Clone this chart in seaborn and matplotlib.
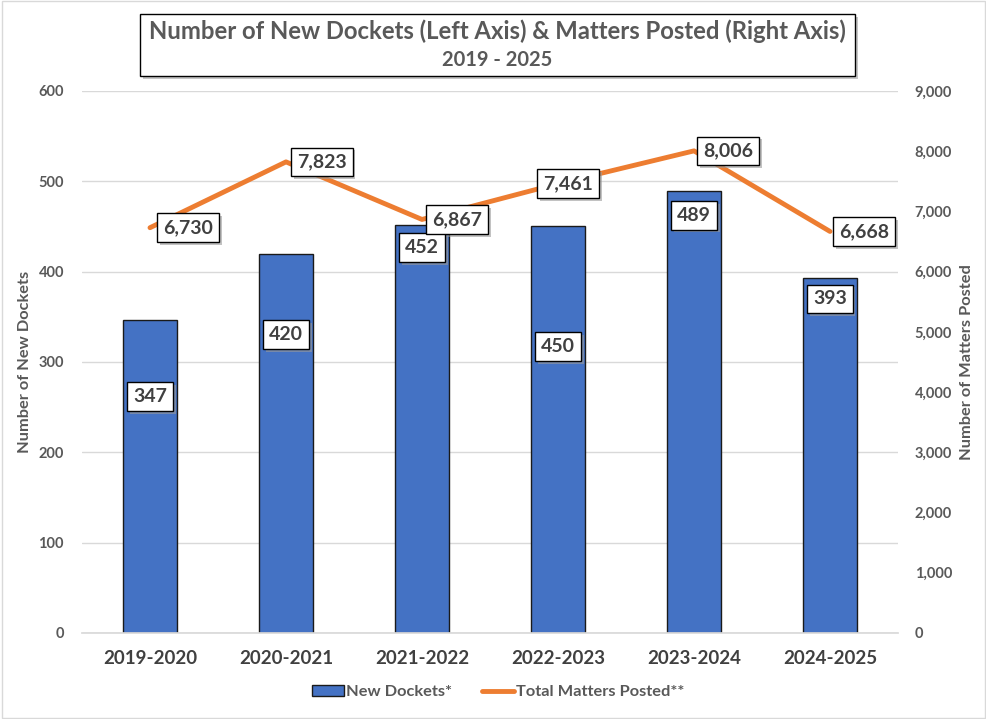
import matplotlib.pyplot as plt
import matplotlib.patches as mpatches
import matplotlib.lines as mlines
import matplotlib.ticker as mticker
import numpy as np
import seaborn as sns
import pandas as pd

years = ["2019-2020", "2020-2021", "2021-2022", "2022-2023", "2023-2024", "2024-2025"]
new_dockets = [347, 420, 452, 450, 489, 393]
matters_posted = [6730, 7823, 6867, 7461, 8006, 6668]

# label placement (pixel offsets), kept apart from the data
bar_lbl_drop = [77, 81, 23, 120, 24, 21]
line_lbl_dx = [38, 36, 35, 10, 34, 34]

BLUE = "#4472C4"
ORANGE = "#ED7D31"
GRAY = "#595959"
DARK = "#404040"

if __name__ == '__main__':
    sns.set_theme(style="white")
    plt.rcParams['font.family'] = ['Lato', 'DejaVu Sans']

    fig = plt.figure(figsize=(9.87, 7.19), dpi=100)
    ax = fig.add_axes([82 / 987, 1 - 633 / 719, 816 / 987, 542 / 719])
    df = pd.DataFrame({"year": years, "dockets": new_dockets, "matters": matters_posted})

    sns.barplot(data=df, x="year", y="dockets", ax=ax, color=BLUE, saturation=1,
                width=0.4, edgecolor="#1a1a1a", linewidth=1.0, zorder=2)
    ax.set_ylim(0, 600)
    ax.set_xlim(-0.5, 5.5)
    ax.yaxis.set_major_locator(mticker.MultipleLocator(100))
    ax.grid(axis="y", color="#D9D9D9", linewidth=1.0, zorder=0)
    ax.set_axisbelow(True)
    for s in ["left", "right", "top"]:
        ax.spines[s].set_visible(False)
    ax.spines["bottom"].set_color("#D9D9D9")
    ax.tick_params(axis="both", length=0)
    ax.tick_params(axis="y", labelsize=10.5, labelcolor=GRAY, pad=13)
    ax.tick_params(axis="x", labelsize=13.5, labelcolor=DARK, pad=12)
    for t in ax.get_yticklabels() + ax.get_xticklabels():
        t.set_fontweight("bold")
    ax.set_xlabel("")
    ax.set_ylabel("Number of New Dockets", fontsize=11.8, fontweight="bold", color=GRAY)
    ax.yaxis.set_label_coords(-0.061, 0.5)

    ax2 = ax.twinx()
    sns.lineplot(data=df, x="year", y="matters", ax=ax2, color=ORANGE, linewidth=3.5,
                 sort=False, zorder=3)
    ax2.set_ylim(0, 9000)
    ax2.yaxis.set_major_locator(mticker.MultipleLocator(1000))
    ax2.yaxis.set_major_formatter(mticker.StrMethodFormatter("{x:,.0f}"))
    for s in ["left", "right", "top", "bottom"]:
        ax2.spines[s].set_visible(False)
    ax2.tick_params(axis="y", length=0, labelsize=10.5, labelcolor=GRAY, pad=12)
    for t in ax2.get_yticklabels():
        t.set_fontweight("bold")
    ax2.set_ylabel("Number of Matters Posted", fontsize=11.8, fontweight="bold", color=GRAY,
                   rotation=90)
    ax2.yaxis.set_label_coords(1.076, 0.5)
    ax2.grid(False)

    box = dict(boxstyle="square,pad=0.3", facecolor="white", edgecolor="black", linewidth=1.0)
    shadow = dict(boxstyle="square,pad=0.3", facecolor="#9a9a9a", edgecolor="none", alpha=0.6)
    for i, v in enumerate(new_dockets):
        for dx, dy, bb, col, z in [(2, -2, shadow, "#9a9a9a", 5), (0, 0, box, DARK, 6)]:
            ax2.annotate(f"{v}", xy=(i, v * 15), xytext=(dx, -bar_lbl_drop[i] * 0.72 + dy),
                         textcoords="offset points", ha="center", va="center",
                         fontsize=14, fontweight="bold", color=col, bbox=bb, zorder=z)
    for i, v in enumerate(matters_posted):
        for dx, dy, bb, col, z in [(2, -2, shadow, "#9a9a9a", 5), (0, 0, box, DARK, 6)]:
            ax2.annotate(f"{v:,}", xy=(i, v), xytext=(line_lbl_dx[i] * 0.72 + dx, dy),
                         textcoords="offset points", ha="center", va="center",
                         fontsize=14, fontweight="bold", color=col, bbox=bb, zorder=z)

    # title box
    fig.patches.append(mpatches.Rectangle((143 / 987, 1 - 79 / 719), 715 / 987, 62 / 719,
                                          transform=fig.transFigure, facecolor="#a0a0a0",
                                          edgecolor="none", alpha=0.6, zorder=0))
    fig.patches.append(mpatches.Rectangle((140 / 987, 1 - 76 / 719), 715 / 987, 62 / 719,
                                          transform=fig.transFigure, facecolor="white",
                                          edgecolor="black", linewidth=1.0, zorder=1))
    fig.text(497 / 987, 1 - 31 / 719, "Number of New Dockets (Left Axis) & Matters Posted (Right Axis)",
             ha="center", va="center", fontsize=17.2, fontweight="bold", color=GRAY, zorder=2)
    fig.text(497 / 987, 1 - 60 / 719, "2019 - 2025", ha="center", va="center",
             fontsize=14.5, fontweight="bold", color=GRAY, zorder=2)

    # outer chart border
    fig.patches.append(mpatches.Rectangle((0.002, 0.002), 0.996, 0.996, transform=fig.transFigure,
                                          facecolor="none", edgecolor="#D9D9D9", linewidth=1.0))

    handles = [mpatches.Patch(facecolor=BLUE, edgecolor="#1a1a1a", linewidth=1.0),
               mlines.Line2D([], [], color=ORANGE, linewidth=3.5)]
    leg = fig.legend(handles, ["New Dockets*", "Total Matters Posted**"], loc="center",
                     bbox_to_anchor=(498 / 987, 1 - 692 / 719), ncol=2, frameon=False,
                     handlelength=2.0, handletextpad=0.1, columnspacing=1.8,
                     prop={"size": 11.8, "weight": "bold"})
    for t in leg.get_texts():
        t.set_color(GRAY)

    fig.savefig("out.png", dpi=100)
